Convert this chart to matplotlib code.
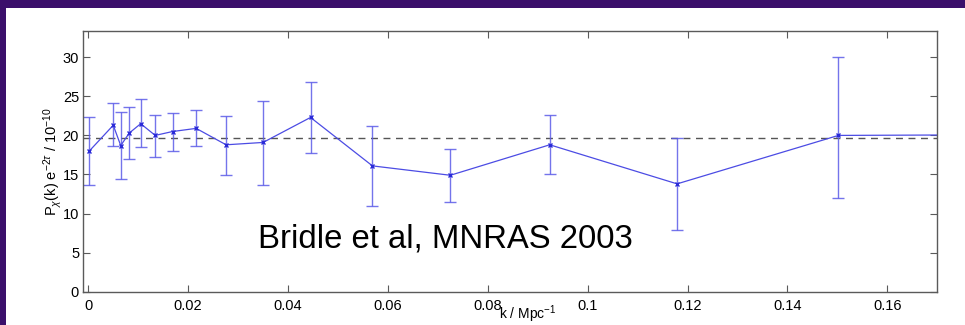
"""
plot.py — chi power spectrum band powers with error bars (Bridle et al 2003).

Draws P_chi(k) e^{-2 tau} against k on a white panel over a purple slide
background, MATLAB-style axes with inward ticks on all four sides.
"""

import matplotlib
matplotlib.use("Agg")
import matplotlib.pyplot as plt

# ---------------------------------------------------------------------------
# Data (band powers, units of 1e-10)
# ---------------------------------------------------------------------------

k_vals   = [0.0002, 0.0050, 0.0065, 0.0082, 0.0105, 0.0134, 0.0169, 0.0216,
            0.0276, 0.0350, 0.0445, 0.0569, 0.0725, 0.0924, 0.1179, 0.1502,
            0.1900]
power    = [18.0, 21.3, 18.7, 20.3, 21.5, 20.0, 20.5, 20.9,
            18.8, 19.1, 22.3, 16.1, 14.9, 18.8, 13.8, 20.0,
            20.1]
err_high = [22.4, 24.1, 23.0, 23.6, 24.6, 22.6, 22.9, 23.2,
            22.5, 24.4, 26.8, 21.2, 18.3, 22.6, 19.7, 30.0,
            28.0]
err_low  = [13.6, 18.6, 14.4, 17.0, 18.5, 17.3, 18.0, 18.6,
            14.9, 13.7, 17.8, 11.0, 11.5, 15.1, 7.9, 12.0,
            14.0]
best_fit = 19.65

x_ticks = [0, 0.02, 0.04, 0.06, 0.08, 0.1, 0.12, 0.14, 0.16]
x_tick_labels = ["0", "0.02", "0.04", "0.06", "0.08", "0.1", "0.12", "0.14", "0.16"]
y_ticks = [0, 5, 10, 15, 20, 25, 30]

# ---------------------------------------------------------------------------
# Styling
# ---------------------------------------------------------------------------

BG_PURPLE  = "#3b0f6b"
LINE_BLUE  = "#4c4ce4"
ERR_BLUE   = "#5c5ce8"
AXIS_GREY  = "#5a5a5a"
FONT       = ["Liberation Sans", "DejaVu Sans"]

plt.rcParams["font.family"] = FONT
plt.rcParams["mathtext.fontset"] = "custom"
plt.rcParams["mathtext.rm"] = "Liberation Sans"
plt.rcParams["mathtext.it"] = "Liberation Sans:italic"

fig = plt.figure(figsize=(9.65, 3.25), dpi=100, facecolor=BG_PURPLE)

# white slide panel, kept underneath the plot axes
panel = fig.add_axes([6 / 965, 0, 1 - 6 / 965, 1 - 8 / 325], zorder=0)
panel.set_axis_off()
panel.add_patch(plt.Rectangle((0, 0), 1, 1, transform=panel.transAxes,
                              facecolor="white", edgecolor="none"))

ax = fig.add_axes([0.0863, 0.1025, 0.9713 - 0.0863, 0.9055 - 0.1025],
                  zorder=1)
ax.set_facecolor("white")

yerr = [[p - lo for p, lo in zip(power, err_low)],
        [hi - p for p, hi in zip(power, err_high)]]

ax.errorbar(k_vals, power, yerr=yerr, fmt="none", ecolor=ERR_BLUE,
            elinewidth=1.0, capsize=4, capthick=1.0, alpha=0.85, zorder=2)
ax.plot(k_vals, power, "-", color=LINE_BLUE, linewidth=0.9, zorder=3)
ax.plot(k_vals, power, "x", color="#2a2ad8", markersize=3.5,
        markeredgewidth=1.0, zorder=4)
ax.axhline(best_fit, color="#555555", linestyle=(0, (5, 4)), linewidth=1.0,
           zorder=1)

ax.set_xlim(-0.001, 0.170)
ax.set_ylim(0, 33.4)
ax.set_xticks(x_ticks)
ax.set_xticklabels(x_tick_labels)
ax.set_yticks(y_ticks)

for side in ax.spines.values():
    side.set_color(AXIS_GREY)
    side.set_linewidth(1.0)
ax.tick_params(direction="in", length=5, width=0.8, color=AXIS_GREY,
               top=True, right=True, labelsize=10.5, pad=5)
ax.tick_params(axis="y", pad=3)

ax.set_ylabel(r"P$_\chi$(k) e$^{-2\tau}$ / 10$^{-10}$", fontsize=10.5,
              labelpad=-1)

# axis label squeezed in beside the tick labels
fig.text(0.547, 0.032, r"k / Mpc$^{-1}$", fontsize=10, ha="center",
         va="center")

fig.text(0.267, 0.24, "Bridle et al, MNRAS 2003", fontsize=23.7,
         ha="left", va="baseline", color="black")

fig.savefig("out.png", dpi=100, facecolor=fig.get_facecolor())
